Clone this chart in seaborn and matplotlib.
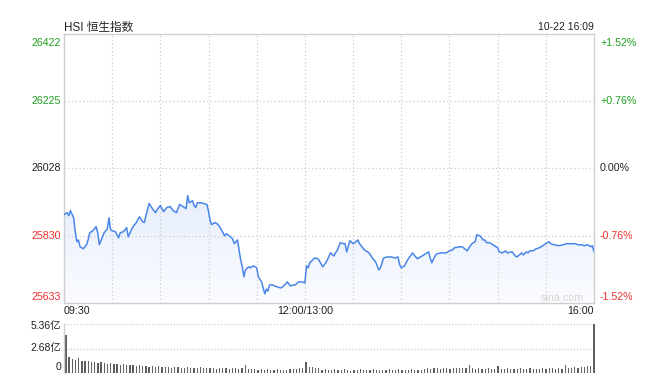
import numpy as np
import pandas as pd
import matplotlib
matplotlib.use("Agg")
import matplotlib.pyplot as plt
import seaborn as sns
from matplotlib.patches import PathPatch
from matplotlib.colors import LinearSegmentedColormap

sns.set_theme(style="white")
plt.rcParams['font.family'] = ['Liberation Sans', 'Noto Sans CJK SC', 'DejaVu Sans']

# ---------------- data ----------------
title = "HSI 恒生指数"
stamp = "10-22 16:09"
prev_close = 26028
y_ticks = [25633, 25830, 26028, 26225, 26422]
pct_labels = ["-1.52%", "-0.76%", "0.00%", "+0.76%", "+1.52%"]
x_tick_minutes = [0, 150, 330]
x_tick_labels = ["09:30", "12:00/13:00", "16:00"]
watermark = "sina.com"

# minutes since 09:30 (trading time, lunch break removed)
minutes = [0, 2, 3, 4, 6, 7, 8, 9, 10, 11, 12, 14, 15, 16, 18, 20, 21, 22, 24, 25,
           27, 28, 29, 30, 32, 34, 35, 37, 39, 40, 42, 43, 45, 47, 49, 50, 51, 53, 55, 57,
           58, 60, 62, 64, 66, 68, 70, 72, 74, 76, 77, 78, 80, 81, 82, 83, 85, 87, 89, 90,
           91, 92, 94, 96, 98, 100, 101, 103, 105, 106, 108, 109, 110, 111, 112, 113, 115, 116, 118, 120,
           121, 123, 125, 126, 127, 128, 130, 131, 133, 135, 136, 138, 139, 141, 143, 144, 146, 148, 150, 151,
           152, 153, 155, 156, 158, 159, 161, 162, 163, 164, 166, 168, 169, 170, 172, 174, 175, 176, 178, 180,
           181, 183, 184, 186, 187, 189, 190, 192, 194, 195, 196, 197, 199, 201, 204, 206, 208, 209, 210, 212,
           214, 217, 219, 220, 223, 227, 228, 229, 231, 232, 235, 238, 240, 242, 243, 247, 248, 251, 253, 254,
           256, 257, 259, 261, 262, 263, 265, 267, 270, 271, 273, 275, 276, 279, 281, 282, 285, 286, 288, 289,
           290, 292, 294, 296, 298, 301, 302, 303, 305, 308, 311, 313, 316, 318, 320, 322, 324, 326, 328, 329,
           330]
prices = [25892, 25898, 25889, 25904, 25883, 25842, 25813, 25818, 25798, 25795, 25792, 25804, 25818, 25839, 25845, 25857, 25839, 25804, 25827, 25839,
          25851, 25883, 25848, 25845, 25842, 25824, 25839, 25842, 25854, 25827, 25848, 25857, 25869, 25886, 25871, 25869, 25889, 25925, 25910, 25898,
          25907, 25919, 25901, 25913, 25916, 25904, 25898, 25922, 25916, 25910, 25948, 25927, 25933, 25919, 25913, 25927, 25927, 25925, 25922, 25901,
          25874, 25863, 25869, 25863, 25848, 25830, 25836, 25830, 25821, 25807, 25818, 25789, 25760, 25739, 25710, 25730, 25739, 25736, 25742, 25736,
          25710, 25695, 25660, 25674, 25668, 25686, 25686, 25683, 25680, 25677, 25680, 25689, 25695, 25683, 25686, 25686, 25695, 25695, 25692, 25742,
          25736, 25751, 25760, 25765, 25763, 25757, 25739, 25745, 25751, 25760, 25780, 25771, 25780, 25786, 25810, 25807, 25807, 25783, 25816, 25807,
          25810, 25818, 25807, 25795, 25789, 25783, 25780, 25765, 25754, 25742, 25730, 25736, 25765, 25768, 25768, 25765, 25768, 25745, 25736, 25742,
          25760, 25780, 25768, 25763, 25771, 25783, 25765, 25751, 25771, 25777, 25780, 25780, 25786, 25789, 25795, 25798, 25798, 25786, 25801, 25807,
          25813, 25833, 25830, 25818, 25818, 25810, 25810, 25804, 25795, 25783, 25780, 25786, 25780, 25783, 25771, 25768, 25780, 25774, 25783, 25780,
          25786, 25786, 25792, 25795, 25801, 25810, 25813, 25807, 25804, 25801, 25804, 25807, 25807, 25807, 25804, 25804, 25801, 25804, 25798, 25801,
          25783]

# volume (亿) per two-minute slot, last bar = closing auction
vol_minutes = list(range(0, 330, 2)) + [330]
volumes = [4.15, 1.75, 1.50, 1.40, 1.60, 1.35, 1.30, 1.30, 1.20, 1.25, 1.10, 1.15, 1.05, 1.00, 1.05, 0.95, 1.00, 0.90, 0.95, 0.85,
           0.90, 0.85, 0.80, 0.90, 0.75, 0.80, 0.70, 0.75, 0.65, 0.75, 0.70, 0.65, 0.70, 0.60, 0.65, 0.70, 0.60, 0.55, 0.65, 0.60,
           0.55, 0.60, 0.70, 0.55, 0.50, 0.60, 0.55, 0.45, 0.55, 0.60, 0.50, 0.45, 0.55, 0.50, 0.45, 0.50, 0.90, 0.45, 0.40, 0.45,
           0.35, 0.40, 0.35, 0.40, 0.30, 0.35, 0.40, 0.30, 0.35, 0.30, 0.40, 0.45, 0.40, 0.50, 0.55, 1.25, 0.65, 0.70, 0.60, 0.55,
           0.35, 0.40, 0.30, 0.35, 0.40, 0.30, 0.35, 0.40, 0.30, 0.25, 0.35, 0.30, 0.40, 0.35, 0.30, 0.35, 0.40, 0.30, 0.35, 0.30,
           0.35, 0.40, 0.30, 0.35, 0.40, 0.35, 0.30, 0.35, 0.40, 0.35, 0.30, 0.35, 0.45, 0.50, 0.45, 0.50, 0.55, 0.45, 0.50, 0.55,
           0.45, 0.50, 0.55, 0.50, 0.55, 0.50, 0.85, 0.50, 0.45, 0.55, 0.45, 0.40, 0.50, 0.45, 0.40, 0.80, 0.45, 0.40, 0.50, 0.45,
           0.40, 0.45, 0.50, 0.40, 0.45, 0.50, 0.40, 0.45, 0.40, 0.50, 0.45, 0.55, 0.50, 0.45, 0.50, 0.45, 0.85, 0.55, 0.60, 0.65,
           0.60, 0.70, 0.65, 0.75, 0.80, 5.36]
vol_ticks = [0, 2.68, 5.36]
vol_labels = ["0", "2.68亿", "5.36亿"]

# ---------------- style ----------------
W, H = 649, 378
GREEN = '#1ea01e'
RED = '#f0302c'
BLACK = '#222222'
FRAME = '#cfcfcf'
GRID = '#cccccc'
LINE = '#4a86e8'

def label_color(v):
    if v > prev_close:
        return GREEN
    if v < prev_close:
        return RED
    return BLACK

fig = plt.figure(figsize=(W / 100, H / 100), dpi=100)
fig.patch.set_facecolor('white')
ax = fig.add_axes([64 / W, 75 / H, 530 / W, 269 / H])
axv = fig.add_axes([64 / W, 5 / H, 531 / W, 49 / H])

y_min, y_max = y_ticks[0], y_ticks[-1]

df = pd.DataFrame({"minute": minutes, "price": prices})

# gradient area under the line
poly = ax.fill_between(df["minute"], df["price"], y_min, facecolor='none', edgecolor='none', lw=0)
path = poly.get_paths()[0]
patch = PathPatch(path, transform=ax.transData, facecolor='none', edgecolor='none')
ax.add_patch(patch)
cmap = LinearSegmentedColormap.from_list('fade', ['#fbfcff', '#e6eefc'])
grad = np.linspace(0, 1, 256).reshape(-1, 1)
im = ax.imshow(grad, extent=[0, 330, y_min, 25955], origin='lower', aspect='auto',
               cmap=cmap, zorder=0.5, interpolation='bilinear')
im.set_clip_path(patch)

sns.lineplot(data=df, x="minute", y="price", ax=ax, color=LINE, linewidth=1.1, zorder=3)

ax.set_xlim(0, 330)
ax.set_ylim(y_min, y_max)
ax.set_xlabel("")
ax.set_ylabel("")
ax.set_xticks([])
ax.set_yticks([])
for s in ax.spines.values():
    s.set_color(FRAME)
    s.set_linewidth(1.0)

# grid
for m in range(30, 330, 30):
    ax.axvline(m, color=GRID, lw=0.9, ls=(0, (1, 2)), zorder=1)
for v in y_ticks[1:-1]:
    ax.axhline(v, color=GRID, lw=0.9, ls=(0, (1, 2)), zorder=1)

# y labels
ytr = ax.get_yaxis_transform()
for i, (v, p) in enumerate(zip(y_ticks, pct_labels)):
    va = 'center'
    dy = 0
    if i == len(y_ticks) - 1:
        va, dy = 'top', -3
    elif i == 0:
        va, dy = 'bottom', 1
    c = label_color(v)
    ax.annotate(str(v), xy=(0, v), xycoords=ytr, xytext=(-2.2, dy), textcoords='offset points',
                ha='right', va=va, fontsize=7.7, color=c)
    ax.annotate(p, xy=(1, v), xycoords=ytr, xytext=(4.3, dy), textcoords='offset points',
                ha='left', va=va, fontsize=7.7, color=c)

# x labels
xtr = ax.get_xaxis_transform()
for m, lab in zip(x_tick_minutes, x_tick_labels):
    ha = 'center'
    if m == x_tick_minutes[0]:
        ha = 'left'
    elif m == x_tick_minutes[-1]:
        ha = 'right'
    ax.annotate(lab, xy=(m, 0), xycoords=xtr, xytext=(0, -2), textcoords='offset points',
                ha=ha, va='top', fontsize=7.7, color=BLACK)

ax.text(0.94, 0.02, watermark, transform=ax.transAxes, ha='center', va='center',
        fontsize=7.7, color='#d4d4d4')

fig.text(64 / W, 1 - 31 / H, title, ha='left', va='baseline', fontsize=8.4, color=BLACK)
fig.text(594 / W, 1 - 30 / H, stamp, ha='right', va='baseline', fontsize=7.5, color=BLACK)

# ---------------- volume ----------------
vdf = pd.DataFrame({"minute": vol_minutes, "vol": volumes})
sns.barplot(data=vdf, x="minute", y="vol", ax=axv, native_scale=True, color='#5f5f5f',
            width=0.4, linewidth=0, saturation=1)
axv.set_xlim(-1.2, 330.6)
axv.set_ylim(0, 5.36)
axv.set_xlabel("")
axv.set_ylabel("")
axv.set_xticks([])
axv.set_yticks([])
for k in ['top', 'right', 'bottom']:
    axv.spines[k].set_visible(False)
axv.spines['left'].set_color(FRAME)
axv.spines['left'].set_linewidth(1.0)
for v in vol_ticks[1:]:
    axv.axhline(v, color=GRID, lw=0.9, ls=(0, (1, 1.5)), zorder=0)
vtr = axv.get_yaxis_transform()
for v, lab in zip(vol_ticks, vol_labels):
    va = 'center'
    dy = 0
    if v == vol_ticks[-1]:
        va, dy = 'top', 2
    elif v == vol_ticks[0]:
        va, dy = 'bottom', 1
    axv.annotate(lab, xy=(0, v), xycoords=vtr, xytext=(-2.2, dy), textcoords='offset points',
                 ha='right', va=va, fontsize=7.5, color=BLACK)

fig.savefig("out.png", dpi=100)
